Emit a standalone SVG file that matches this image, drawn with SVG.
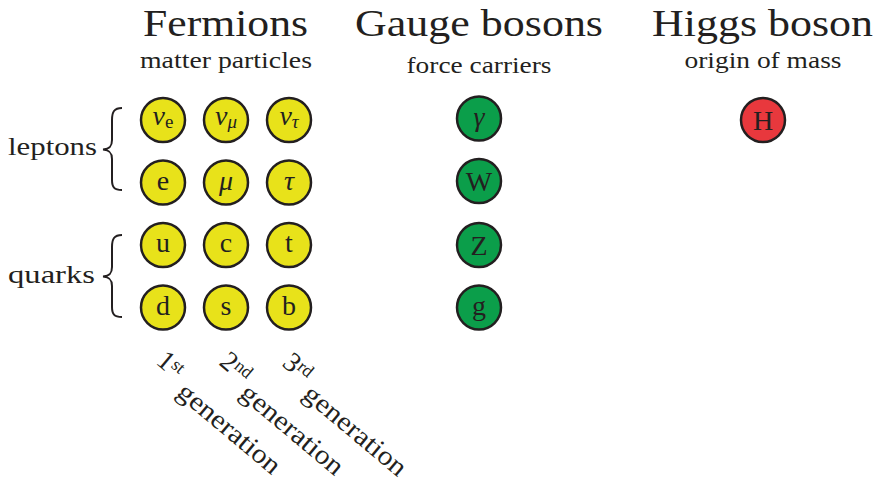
<svg xmlns="http://www.w3.org/2000/svg" width="878" height="493" viewBox="0 0 878 493">
<style>
text{font-family:"Liberation Serif","Times New Roman",serif;fill:#231f20}
.title{font-size:38px;text-anchor:middle}
.sub{font-size:24px;text-anchor:middle}
.side{font-size:26px}
.gen{font-size:27px}
.num{font-size:28px}
.p circle{stroke:#231f20;stroke-width:2.5}
.f circle{fill:#e8e21a}
.b circle{fill:#0b9e4a}
.h circle{fill:#e8383d}
.p text{font-size:28px;text-anchor:middle}
.gr{font-style:italic}
.brace{fill:none;stroke:#231f20;stroke-width:2}
</style>
<g id="headers">
<text class="title" x="225.5" y="36" textLength="165" lengthAdjust="spacingAndGlyphs">Fermions</text>
<text class="sub" x="226" y="68" textLength="172" lengthAdjust="spacingAndGlyphs">matter particles</text>
<text class="title" x="479" y="36" textLength="248" lengthAdjust="spacingAndGlyphs">Gauge bosons</text>
<text class="sub" x="479" y="73" textLength="145" lengthAdjust="spacingAndGlyphs">force carriers</text>
<text class="title" x="762.5" y="36" textLength="221" lengthAdjust="spacingAndGlyphs">Higgs boson</text>
<text class="sub" x="763" y="68" textLength="157" lengthAdjust="spacingAndGlyphs">origin of mass</text>
</g>
<g id="groups">
<text class="side" x="8" y="155" textLength="89" lengthAdjust="spacingAndGlyphs">leptons</text>
<path class="brace" d="M122,108 C114,108 112,112 112,120 L112,140 C112,146 110,149 103,149.5 C110,150 112,153 112,159 L112,180 C112,187 114,190 122,190"/>
<text class="side" x="8" y="283" textLength="87" lengthAdjust="spacingAndGlyphs">quarks</text>
<path class="brace" d="M122,235 C114,235 112,239 112,247 L112,267 C112,273 110,276 103,276.5 C110,277 112,280 112,286 L112,307 C112,314 114,317 122,317"/>
</g>
<g id="ve" class="p f"><circle cx="163" cy="120" r="22"/><text x="163" y="125"><tspan class="gr">ν</tspan><tspan font-size="19" dy="3">e</tspan></text></g>
<g id="vmu" class="p f"><circle cx="226" cy="120" r="22"/><text x="226" y="125"><tspan class="gr">ν</tspan><tspan class="gr" font-size="19" dy="3">μ</tspan></text></g>
<g id="vtau" class="p f"><circle cx="289" cy="120" r="22"/><text x="289" y="125"><tspan class="gr">ν</tspan><tspan class="gr" font-size="19" dy="3">τ</tspan></text></g>
<g id="e" class="p f"><circle cx="163" cy="182.5" r="22"/><text x="163" y="189.5">e</text></g>
<g id="mu" class="p f"><circle cx="226" cy="182.5" r="22"/><text class="gr" x="226" y="189.5">μ</text></g>
<g id="tau" class="p f"><circle cx="289" cy="182.5" r="22"/><text class="gr" x="289" y="189.5">τ</text></g>
<g id="u" class="p f"><circle cx="163" cy="245" r="22"/><text x="163" y="252">u</text></g>
<g id="c" class="p f"><circle cx="226" cy="245" r="22"/><text x="226" y="252">c</text></g>
<g id="t" class="p f"><circle cx="289" cy="245" r="22"/><text x="289" y="252">t</text></g>
<g id="d" class="p f"><circle cx="163" cy="307.5" r="22"/><text x="163" y="314.5">d</text></g>
<g id="s" class="p f"><circle cx="226" cy="307.5" r="22"/><text x="226" y="314.5">s</text></g>
<g id="b" class="p f"><circle cx="289" cy="307.5" r="22"/><text x="289" y="314.5">b</text></g>
<g id="gamma" class="p b"><circle cx="479" cy="118.5" r="22"/><text class="gr" x="479" y="125.5">γ</text></g>
<g id="W" class="p b"><circle cx="479" cy="181" r="22"/><text x="479" y="190.5">W</text></g>
<g id="Z" class="p b"><circle cx="479" cy="245" r="22"/><text x="479" y="254.5">Z</text></g>
<g id="g" class="p b"><circle cx="479" cy="307.5" r="22"/><text x="479" y="314.5">g</text></g>
<g id="H" class="p h"><circle cx="763" cy="120" r="22"/><text x="763" y="129.5">H</text></g>
<g id="generations">
<g transform="translate(155,363) rotate(40)"><text class="num">1<tspan font-size="18" dy="-7">st</tspan></text><text class="gen" x="36" y="11" textLength="126" lengthAdjust="spacingAndGlyphs">generation</text></g>
<g transform="translate(218,364) rotate(40)"><text class="num">2<tspan font-size="18" dy="-7">nd</tspan></text><text class="gen" x="36" y="11" textLength="126" lengthAdjust="spacingAndGlyphs">generation</text></g>
<g transform="translate(281,365) rotate(40)"><text class="num">3<tspan font-size="18" dy="-7">rd</tspan></text><text class="gen" x="36" y="11" textLength="126" lengthAdjust="spacingAndGlyphs">generation</text></g>
</g>
</svg>
